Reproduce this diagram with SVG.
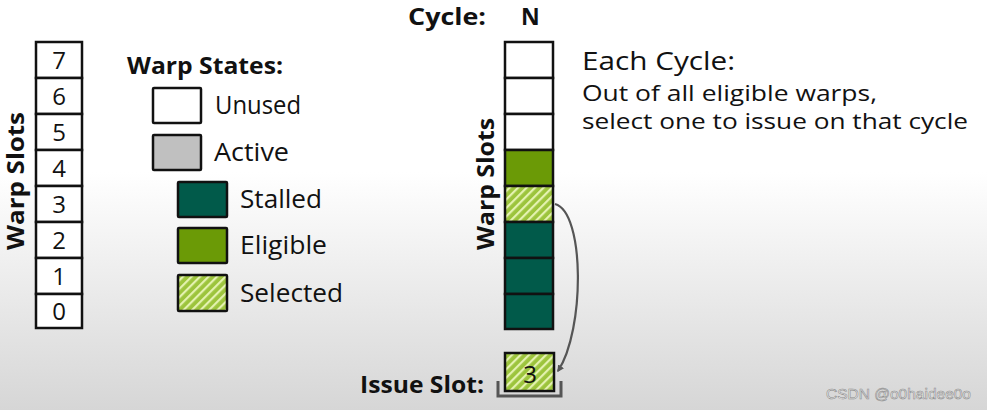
<svg xmlns="http://www.w3.org/2000/svg" width="987" height="410" viewBox="0 0 987 410">
<defs>
<linearGradient id="bg" x1="0" y1="0" x2="0" y2="1">
<stop offset="0" stop-color="#ffffff"/>
<stop offset="0.42" stop-color="#ffffff"/>
<stop offset="1" stop-color="#d6d6d6"/>
</linearGradient>
<pattern id="hatch" width="6" height="6" patternUnits="userSpaceOnUse" patternTransform="rotate(45)">
<rect width="6" height="6" fill="#9cc43c"/>
<rect width="2.2" height="6" fill="#e4f2b0"/>
</pattern>
<marker id="arr" viewBox="0 0 10 10" refX="8" refY="5" markerWidth="7" markerHeight="7" orient="auto-start-reverse" markerUnits="userSpaceOnUse">
<path d="M0,0 L10,5 L0,10 z" fill="#555"/>
</marker>
<style>
.box{stroke:#111;stroke-width:2.5}
.unused{fill:#ffffff}
.active{fill:#c0c0c0}
.stalled{fill:#015a4a}
.eligible{fill:#6b9a06}
.selected{fill:url(#hatch)}
.num{font-family:"Open Sans","Liberation Sans",sans-serif;font-size:24px;fill:#111;text-anchor:middle}
.lbl{font-family:"Open Sans","Liberation Sans",sans-serif;font-size:25px;fill:#111}
.bold{font-family:"Open Sans","Liberation Sans",sans-serif;font-size:23px;font-weight:bold;fill:#111}
.txt{font-family:"Open Sans","Liberation Sans",sans-serif;fill:#111}
</style>
</defs>
<rect width="987" height="410" fill="url(#bg)"/>

<g id="left-slots">
<rect class="box unused" x="36" y="42" width="46" height="36"/><text class="num" x="59" y="69">7</text>
<rect class="box unused" x="36" y="78" width="46" height="36"/><text class="num" x="59" y="105">6</text>
<rect class="box unused" x="36" y="114" width="46" height="36"/><text class="num" x="59" y="141">5</text>
<rect class="box unused" x="36" y="150" width="46" height="36"/><text class="num" x="59" y="177">4</text>
<rect class="box unused" x="36" y="186" width="46" height="36"/><text class="num" x="59" y="213">3</text>
<rect class="box unused" x="36" y="222" width="46" height="36"/><text class="num" x="59" y="249">2</text>
<rect class="box unused" x="36" y="258" width="46" height="36"/><text class="num" x="59" y="285">1</text>
<rect class="box unused" x="36" y="294" width="46" height="34"/><text class="num" x="59" y="320">0</text>
<text class="bold" font-size="23" transform="translate(24,181) rotate(-90)" text-anchor="middle" textLength="138" lengthAdjust="spacingAndGlyphs">Warp Slots</text>
</g>

<g id="legend">
<text class="bold" x="127" y="74" textLength="156" lengthAdjust="spacingAndGlyphs">Warp States:</text>
<rect class="box unused" x="153" y="88" width="48" height="35" rx="1"/>
<text class="lbl" x="215" y="114" textLength="86" lengthAdjust="spacingAndGlyphs">Unused</text>
<rect class="box active" x="153" y="135" width="48" height="35" rx="1"/>
<text class="lbl" x="214" y="161" textLength="75" lengthAdjust="spacingAndGlyphs">Active</text>
<rect class="box stalled" x="178" y="182" width="49" height="35" rx="1"/>
<text class="lbl" x="240" y="208" textLength="82" lengthAdjust="spacingAndGlyphs">Stalled</text>
<rect class="box eligible" x="178" y="228" width="49" height="35" rx="1"/>
<text class="lbl" x="240" y="254" textLength="87" lengthAdjust="spacingAndGlyphs">Eligible</text>
<rect class="box selected" x="178" y="275" width="49" height="36" rx="1"/>
<text class="lbl" x="240" y="302" textLength="103" lengthAdjust="spacingAndGlyphs">Selected</text>
</g>

<g id="cycle-column">
<text class="bold" x="408" y="25" textLength="78" lengthAdjust="spacingAndGlyphs">Cycle:</text>
<text class="bold" x="521" y="25">N</text>
<rect class="box unused" x="505" y="42" width="48" height="36"/>
<rect class="box unused" x="505" y="78" width="48" height="36"/>
<rect class="box unused" x="505" y="114" width="48" height="36"/>
<rect class="box eligible" x="505" y="150" width="48" height="36"/>
<rect class="box selected" x="505" y="186" width="48" height="36"/>
<rect class="box stalled" x="505" y="222" width="48" height="36"/>
<rect class="box stalled" x="505" y="258" width="48" height="36"/>
<rect class="box stalled" x="505" y="294" width="48" height="35"/>
<text class="bold" font-size="23" transform="translate(494,184) rotate(-90)" text-anchor="middle" textLength="132" lengthAdjust="spacingAndGlyphs">Warp Slots</text>
</g>

<g id="description">
<text class="txt" x="582" y="70" font-size="26" textLength="153" lengthAdjust="spacingAndGlyphs">Each Cycle:</text>
<text class="txt" x="582" y="101" font-size="22.5" textLength="295" lengthAdjust="spacingAndGlyphs">Out of all eligible warps,</text>
<text class="txt" x="582" y="129" font-size="22.5" textLength="386" lengthAdjust="spacingAndGlyphs">select one to issue on that cycle</text>
</g>

<g id="issue-slot">
<text class="bold" x="360" y="393" textLength="124" lengthAdjust="spacingAndGlyphs">Issue Slot:</text>
<rect class="box selected" x="505" y="353" width="49" height="38"/>
<text class="num" x="530" y="383" font-size="24">3</text>
<path d="M498,381 L498,396 L561,396 L561,381" fill="none" stroke="#555" stroke-width="3"/>
</g>

<g id="connectors">
<path d="M555,204 C585,212 585,330 558,371" fill="none" stroke="#555" stroke-width="2.2" marker-end="url(#arr)"/>
</g>

<text x="826" y="399" font-family="Liberation Sans, sans-serif" font-size="15.5" fill="#f6f6f6" stroke="#8a8a8a" stroke-width="0.6">CSDN @o0haidee0o</text>
</svg>
